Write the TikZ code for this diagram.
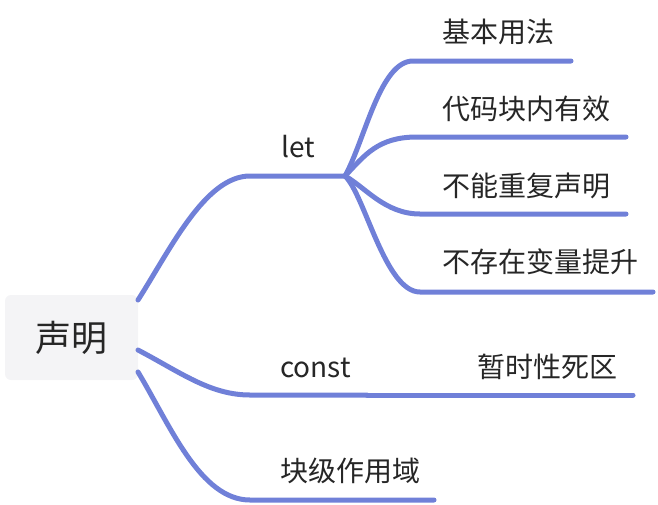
\documentclass[tikz,border=0pt]{standalone}
\usepackage{fontspec}
\setmainfont{Noto Sans CJK SC}
\begin{document}
\begin{tikzpicture}[x=1pt,y=-1pt,
  br/.style={draw=brc,line width=5pt,line cap=round},
  lbl/.style={inner sep=0pt,text=black!85,font=\fontsize{28}{31}\selectfont},
  rootbox/.style={fill=rootfill,rounded corners=6pt,minimum width=133pt,minimum height=85pt,inner sep=0pt,text=black!85,font=\fontsize{36}{40}\selectfont}]
\definecolor{brc}{RGB}{112,128,216}
\definecolor{rootfill}{RGB}{244,244,246}
\useasboundingbox (0,0) rectangle (658,504);
% root
\node[rootbox] (root) at (71.5,337.5) {声明};
% coordinates
\coordinate (r1) at (138,300);
\coordinate (r2) at (138,350);
\coordinate (r3) at (138,372);
\coordinate (letA) at (250,176);
\coordinate (letJ) at (345,176);
\coordinate (c1s) at (413,61);  \coordinate (c1e) at (571,61);
\coordinate (c2s) at (417,137); \coordinate (c2e) at (626,137);
\coordinate (c3s) at (420,214); \coordinate (c3e) at (626,214);
\coordinate (c4s) at (420,292); \coordinate (c4e) at (653,292);
\coordinate (constA) at (250,395);
\coordinate (constJ) at (367,395);
\coordinate (ze) at (633,395);
\coordinate (kA) at (250,500);
\coordinate (ke) at (434,500);
% branches
\draw[br] (r1) .. controls (170,250) and (205,176) .. (letA) -- (letJ);
\draw[br] (letJ) .. controls (365,140) and (380,61) .. (c1s) -- (c1e);
\draw[br] (letJ) .. controls (365,155) and (378,137) .. (c2s) -- (c2e);
\draw[br] (letJ) .. controls (365,187) and (385,214) .. (c3s) -- (c3e);
\draw[br] (letJ) .. controls (365,195) and (385,292) .. (c4s) -- (c4e);
\draw[br] (r2) .. controls (180,372) and (210,395) .. (constA) -- (constJ);
\draw[br] (constJ) -- (ze);
\draw[br] (r3) .. controls (170,425) and (200,500) .. (kA) -- (ke);
% labels
\node[lbl,anchor=base west] (let) at (281,157) {let};
\node[lbl,anchor=base west] (const) at (280,377) {const};
\node[lbl,anchor=west] (kuai) at (280,471) {块级作用域};
\node[lbl,anchor=west] (l1) at (442,32) {基本用法};
\node[lbl,anchor=west] (l2) at (442,109) {代码块内有效};
\node[lbl,anchor=west] (l3) at (442,186) {不能重复声明};
\node[lbl,anchor=west] (l4) at (442,262) {不存在变量提升};
\node[lbl,anchor=west] (z) at (477,367) {暂时性死区};
\end{tikzpicture}
\end{document}
